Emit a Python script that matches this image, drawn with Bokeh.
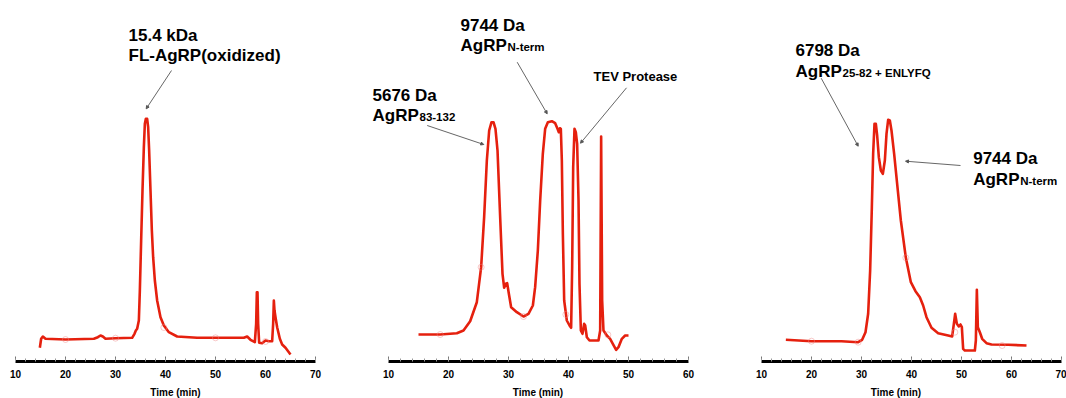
from bokeh.plotting import figure
from bokeh.layouts import row
from bokeh.models import Range1d, SingleIntervalTicker, Label, Arrow, NormalHead
from bokeh.embed import file_html
from bokeh.resources import INLINE

FONT = "Liberation Sans"
RED = "#e5200e"
GREY = "#555555"

# ---------------- data (time in min, absorbance in arbitrary units) ----------------
p1_time = [14.87, 15.13, 15.47, 16.0, 20.0, 25.67, 26.47, 27.0, 27.47, 28.0, 30.0, 33.33,
           33.8, 34.07, 34.33, 34.67, 34.87, 35.13, 35.4, 35.67, 35.87, 36.07, 36.33, 36.53,
           36.73, 37.0, 37.27, 37.53, 37.87, 38.33, 39.0, 39.67, 40.67, 42.33, 46.33, 55.67,
           56.33, 57.0, 57.87, 58.13, 58.27, 58.4, 58.53, 58.73, 59.33, 60.0, 60.67, 61.33,
           61.53, 61.67, 61.8, 62.0, 62.33, 62.87, 63.33, 64.0, 65.0]
p1_abs = [13.7, 22.7, 25.0, 22.7, 22.0, 22.7, 24.3, 26.0, 25.0, 22.7, 23.3, 23.7,
          27.7, 31.0, 32.7, 41.0, 71.0, 121.0, 171.0, 214.3, 237.7, 242.7, 242.7, 234.3,
          211.0, 171.0, 131.0, 104.3, 81.0, 61.0, 44.3, 36.0, 29.3, 25.0, 23.7, 23.7,
          25.0, 21.7, 19.3, 37.7, 69.3, 69.3, 37.7, 18.7, 18.3, 21.0, 20.3, 20.3,
          37.7, 61.0, 51.0, 44.3, 34.3, 22.7, 17.0, 13.7, 7.0]
p1_mark_time = [20.0, 30.0, 39.67, 50.0, 60.0]
p1_mark_abs = [22.0, 23.3, 34.0, 23.7, 20.0]

p2_time = [15.0, 18.61, 21.39, 22.5, 23.61, 24.72, 25.44, 25.94, 26.39, 26.78, 27.17, 27.5,
           27.83, 28.17, 28.61, 29.0, 29.28, 29.56, 29.78, 30.06, 30.44, 31.39, 32.5, 33.33,
           34.06, 34.44, 34.89, 35.28, 35.72, 36.11, 36.56, 37.22, 37.78, 38.17, 38.39, 38.56,
           38.72, 38.89, 39.06, 39.28, 39.72, 40.17, 40.44, 40.61, 40.78, 41.0, 41.22, 41.44,
           41.67, 41.83, 42.06, 42.33, 42.61, 42.78, 43.06, 43.5, 45.0, 45.28, 45.44, 45.61,
           45.83, 46.39, 46.94, 47.39, 47.94, 48.33, 48.89, 49.44, 50.0]
p2_abs = [27.0, 27.0, 28.3, 31.0, 40.3, 59.3, 94.3, 144.3, 201.0, 231.0, 239.3, 239.3,
          232.7, 211.0, 144.3, 87.7, 73.7, 77.7, 78.3, 67.7, 54.3, 49.3, 45.0, 47.7,
          56.0, 74.3, 111.0, 161.0, 207.7, 232.7, 239.3, 240.3, 238.3, 232.7, 229.3, 233.3,
          232.7, 201.0, 127.7, 61.0, 41.0, 36.0, 33.7, 94.3, 194.3, 232.7, 229.3, 217.7,
          161.0, 77.7, 31.0, 27.7, 37.7, 36.0, 24.3, 21.0, 21.0, 31.0, 225.0, 61.0,
          31.0, 26.0, 22.7, 17.7, 11.7, 14.3, 22.7, 26.0, 26.0]
p2_mark_time = [18.61, 25.44, 32.5, 39.56, 46.56]
p2_mark_abs = [27.0, 94.3, 45.0, 47.0, 26.7]

p3_time = [14.87, 20.0, 26.0, 29.33, 30.13, 30.8, 31.33, 31.73, 32.07, 32.33, 32.6, 32.87,
           33.13, 33.47, 33.87, 34.27, 34.67, 35.0, 35.33, 35.67, 36.0, 36.53, 37.13, 37.87,
           38.87, 39.87, 40.8, 41.67, 42.33, 43.0, 44.0, 45.33, 47.33, 48.13, 48.47, 48.73,
           49.07, 49.47, 49.8, 50.07, 50.33, 50.67, 52.67, 52.87, 53.07, 53.27, 53.67, 54.13,
           55.0, 56.0, 59.33, 63.0]
p3_abs = [21.7, 20.3, 20.3, 19.3, 21.7, 29.3, 47.7, 91.0, 154.3, 207.7, 237.7, 237.7,
          226.0, 204.3, 191.0, 187.7, 201.0, 227.7, 241.7, 241.0, 231.0, 207.7, 177.7, 141.0,
          103.7, 79.3, 70.3, 64.3, 56.0, 44.3, 33.7, 28.3, 26.0, 25.0, 37.7, 47.7,
          37.7, 35.0, 37.0, 34.3, 12.7, 11.0, 11.0, 21.0, 71.7, 34.3, 29.3, 22.7,
          18.3, 17.0, 16.7, 16.0]
p3_mark_time = [20.0, 29.33, 38.87, 48.67, 58.13]
p3_mark_abs = [20.3, 19.3, 103.7, 29.3, 16.0]

x_tick_step = 10
axis_title = "Time (min)"

FRAME_H = 361
Y_MAX = 361


def make_panel(t, a, mt, ma, axis_lo, axis_hi, px_per_min, pad_left, pad_right):
    # the frame covers the whole figure width; the axis itself is limited by its bounds
    x_lo = axis_lo - pad_left / px_per_min
    x_hi = axis_hi + pad_right / px_per_min
    frame_w = int(round((x_hi - x_lo) * px_per_min))
    p = figure(frame_width=frame_w, frame_height=FRAME_H,
               x_range=Range1d(x_lo, x_hi), y_range=Range1d(0, Y_MAX),
               output_backend="svg", toolbar_location=None, y_axis_location=None,
               min_border_left=0, min_border_right=0, min_border_top=0, min_border_bottom=37)
    p.outline_line_color = None
    p.grid.visible = False
    p.background_fill_color = "white"
    p.border_fill_color = "white"

    ax = p.xaxis[0]
    ax.bounds = (axis_lo, axis_hi)
    ax.ticker = SingleIntervalTicker(interval=x_tick_step, num_minor_ticks=5)
    ax.axis_line_width = 3
    ax.axis_line_color = "black"
    ax.major_tick_in = 5
    ax.major_tick_out = 0
    ax.minor_tick_in = 3
    ax.minor_tick_out = 0
    ax.major_tick_line_color = "#777777"
    ax.minor_tick_line_color = "#999999"
    ax.major_label_text_font = FONT
    ax.major_label_text_font_style = "bold"
    ax.major_label_text_font_size = "10px"
    ax.major_label_text_color = "black"
    ax.major_label_standoff = 8
    ax.axis_label = axis_title
    ax.axis_label_text_font = FONT
    ax.axis_label_text_font_style = "bold"
    ax.axis_label_text_font_size = "10px"
    ax.axis_label_text_color = "black"
    ax.axis_label_standoff = 6

    p.line(t, a, line_color=RED, line_width=2.6, line_join="round")
    p.scatter(mt, ma, size=6, marker="circle", fill_color=None,
              line_color="#f08a8a", line_alpha=0.45, line_width=1)
    return p


def add_text(p, x, y, text, size="17px", x_offset=0, y_offset=0):
    p.add_layout(Label(x=x, y=y, text=text, x_offset=x_offset, y_offset=y_offset,
                       text_font=FONT, text_font_style="bold", text_font_size=size,
                       text_color="black", text_baseline="alphabetic", text_align="left"))


def add_arrow(p, x0, y0, x1, y1):
    p.add_layout(Arrow(x_start=x0, y_start=y0, x_end=x1, y_end=y1,
                       line_color=GREY, line_width=0.9,
                       end=NormalHead(size=3, fill_color=GREY, line_color=GREY)))


p1 = make_panel(p1_time, p1_abs, p1_mark_time, p1_mark_abs, 10, 70, 5, 15, 35)
add_text(p1, 32.6, 326, "15.4 kDa")
add_text(p1, 32.6, 306, "FL-AgRP(oxidized)")
add_arrow(p1, 41.2, 291, 36.14, 252.7)

p2 = make_panel(p2_time, p2_abs, p2_mark_time, p2_mark_abs, 10, 60, 6, 38, 37)
add_text(p2, 22.0, 336, "9744 Da")
add_text(p2, 22.0, 316, "AgRP")
add_text(p2, 22.0, 316, "N-term", size="11.5px", x_offset=47, y_offset=-1)
add_arrow(p2, 31.45, 299.3, 36.45, 247.7)
add_text(p2, 7.33, 266, "5676 Da")
add_text(p2, 7.33, 246, "AgRP")
add_text(p2, 7.33, 246, "83-132", size="11.5px", x_offset=47, y_offset=-1)
add_arrow(p2, 16.45, 236, 25.88, 217)
add_text(p2, 44.17, 285, "TEV Protease", size="13px")
add_arrow(p2, 49.67, 273.7, 42.0, 218.3)

p3 = make_panel(p3_time, p3_abs, p3_mark_time, p3_mark_abs, 10, 70, 5, 36, 5)
add_text(p3, 16.8, 311, "6798 Da")
add_text(p3, 16.8, 290, "AgRP")
add_text(p3, 16.8, 290, "25-82 + ENLYFQ", size="11.5px", x_offset=47, y_offset=-1)
add_arrow(p3, 21.94, 283.3, 29.34, 215.3)
add_text(p3, 52.34, 203, "9744 Da")
add_text(p3, 52.34, 182, "AgRP")
add_text(p3, 52.34, 182, "N-term", size="11.5px", x_offset=47, y_offset=-1)
add_arrow(p3, 49.8, 196, 38.8, 200.3)

layout = row(p1, p2, p3, spacing=0)

open("out.html", "w").write(file_html(layout, INLINE))
